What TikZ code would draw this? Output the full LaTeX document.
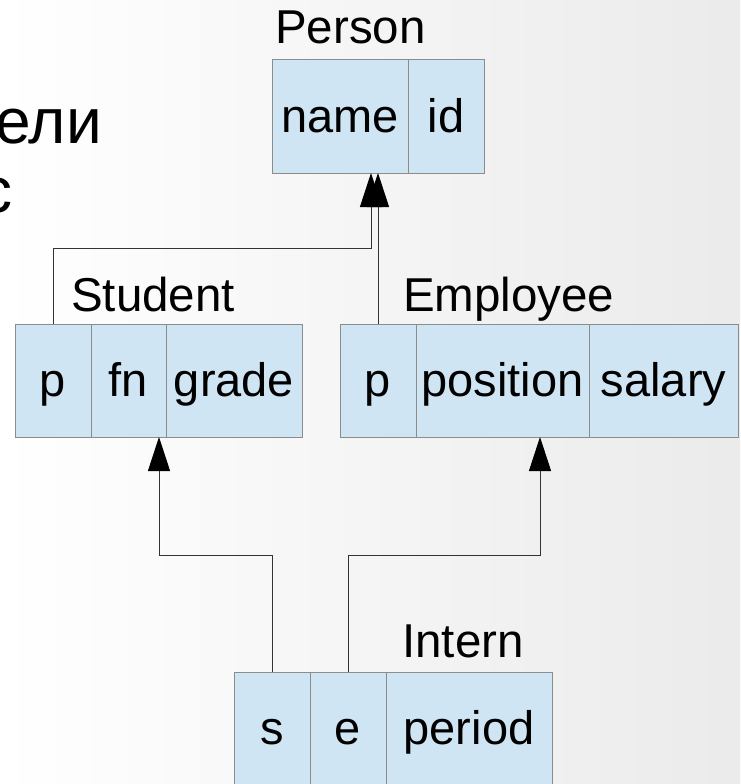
\documentclass[tikz,border=0pt]{standalone}
\usepackage{fontspec}
\setmainfont{Liberation Sans}
\usetikzlibrary{positioning,calc,arrows.meta}
\definecolor{cell-fill}{HTML}{CFE5F3}
\definecolor{cell-border}{HTML}{8C8C8C}
\definecolor{link-color}{HTML}{333333}
\tikzset{
  cell/.style={draw=cell-border, fill=cell-fill, line width=1pt,
    minimum height=113pt, inner sep=0pt, outer sep=0pt,
    text height=34pt, text depth=3pt, font=\fontsize{47}{56}\selectfont},
  cell width/.style={minimum width=#1pt},
  title/.style={anchor=base west, inner sep=0pt, font=\fontsize{47.5}{56}\selectfont},
  slide text/.style={anchor=base east, inner sep=0pt, font=\fontsize{64}{70}\selectfont},
  link/.style={draw=link-color, line width=1pt,
    -{Triangle[length=34pt,width=22pt,fill=black,color=black]}},
}

\begin{document}
\begin{tikzpicture}[x=1pt, y=-1pt]

\useasboundingbox (0,0) rectangle (740,784);
\clip (0,0) rectangle (740,784);
\shade[left color=white, right color=black!8] (0,0) rectangle (740,784);

% cut-off slide text
\node(slide-a)[slide text] at (102,143) {ели};
\node(slide-b)[slide text] at (13,212) {с};

% Person
\node(person-name)[cell, cell width=136, anchor=north west] at (272,60) {name};
\node(person-id)[cell, cell width=76, right=0pt of person-name] {id};
\node(person-lbl)[title] at ($(person-name.north west)+(3,-16)$) {Person};

% Student
\node(student-p)[cell, cell width=76, anchor=north west] at (15,324) {p};
\node(student-fn)[cell, cell width=75, right=0pt of student-p] {fn};
\node(student-grade)[cell, cell width=136, right=0pt of student-fn] {grade};
\node(student-lbl)[title] at ($(student-p.north west)+(56,-13)$) {Student};

% Employee
\node(employee-p)[cell, cell width=76, anchor=north west] at (340,324) {p};
\node(employee-position)[cell, cell width=173, right=0pt of employee-p] {position};
\node(employee-salary)[cell, cell width=149, right=0pt of employee-position] {salary};
\node(employee-lbl)[title] at ($(employee-p.north west)+(63,-13)$) {Employee};

% Intern
\node(intern-s)[cell, cell width=76, anchor=north west] at (234,672) {s};
\node(intern-e)[cell, cell width=76, right=0pt of intern-s] {e};
\node(intern-period)[cell, cell width=166, right=0pt of intern-e] {period};
\node(intern-lbl)[title] at ($(intern-s.north west)+(168,-15)$) {Intern};

% references
\coordinate (s-bend) at (371,248);
\coordinate (is-bend) at (159,555);
\coordinate (ie-bend) at (540,555);

\draw[link] (student-p.north) |- (s-bend) -- (s-bend |- person-name.south);
\draw[link] (employee-p.north) -- (employee-p.north |- person-name.south);
\draw[link] (intern-s.north) |- (is-bend) -- (is-bend |- student-fn.south);
\draw[link] (intern-e.north) |- (ie-bend) -- (ie-bend |- employee-position.south);

\end{tikzpicture}
\end{document}
